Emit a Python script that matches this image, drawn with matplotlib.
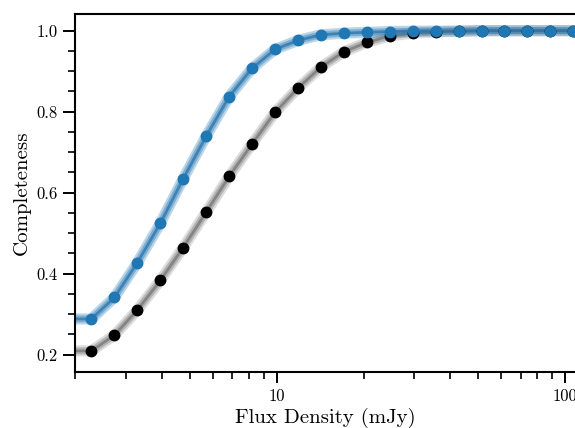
import numpy as np
import matplotlib
matplotlib.use('Agg')
import matplotlib.pyplot as plt
from matplotlib.ticker import MultipleLocator, LogLocator, NullFormatter, FuncFormatter

plt.rcParams['font.family'] = 'serif'
plt.rcParams['font.serif'] = ['cmr10', 'DejaVu Serif']
plt.rcParams['mathtext.fontset'] = 'cm'
plt.rcParams['axes.formatter.use_mathtext'] = True

# flux density bins (mJy)
flux = [2.28, 2.74, 3.29, 3.95, 4.74, 5.70, 6.84, 8.21, 9.86, 11.84, 14.22,
        17.08, 20.51, 24.63, 29.58, 35.52, 42.66, 51.23, 61.52, 73.88, 88.72, 106.5]

blue_comp = [0.288, 0.341, 0.427, 0.524, 0.634, 0.740, 0.837, 0.907, 0.954, 0.976, 0.990,
             0.994, 0.996, 0.998, 0.999, 0.999, 0.999, 1.0, 1.0, 1.0, 1.0, 1.0]
black_comp = [0.209, 0.248, 0.310, 0.383, 0.464, 0.552, 0.640, 0.720, 0.798, 0.858, 0.910,
              0.948, 0.971, 0.987, 0.994, 0.997, 0.999, 1.0, 1.0, 1.0, 1.0, 1.0]

# curves continue flat below the first bin
line_flux = [1.8] + flux
blue_line = [blue_comp[0]] + blue_comp
black_line = [black_comp[0]] + black_comp

fig = plt.figure(figsize=(5.75, 4.28), dpi=100)
ax = fig.add_axes([0.1304, 0.131, 0.8696, 0.836])

# black / grey set
ax.plot(line_flux, black_line, color='0.55', lw=8, alpha=0.3, solid_capstyle='butt', zorder=1)
ax.plot(line_flux, black_line, color='0.45', lw=5, alpha=0.4, solid_capstyle='butt', zorder=1)
ax.plot(line_flux, black_line, color='0.4', lw=2, alpha=0.6, zorder=1)
ax.plot(flux, black_comp, 'o', color='k', ms=7.5, zorder=3)

# blue set
ax.plot(line_flux, blue_line, color='#1f77b4', lw=8, alpha=0.3, solid_capstyle='butt', zorder=2)
ax.plot(line_flux, blue_line, color='#1f77b4', lw=5, alpha=0.4, solid_capstyle='butt', zorder=2)
ax.plot(line_flux, blue_line, color='#2a6fa5', lw=2, alpha=0.7, zorder=2)
ax.plot(flux, blue_comp, 'o', color='#1f77b4', ms=7.5, zorder=4)

ax.set_xscale('log')
ax.set_xlim(2.0, 108)
ax.set_ylim(0.157, 1.041)

ax.yaxis.set_major_locator(MultipleLocator(0.2))
ax.yaxis.set_minor_locator(MultipleLocator(0.05))
ax.yaxis.set_major_formatter(plt.FormatStrFormatter('%.1f'))
ax.xaxis.set_major_locator(LogLocator(base=10))
ax.xaxis.set_major_formatter(FuncFormatter(lambda v, p: '%g' % v))
ax.xaxis.set_minor_locator(LogLocator(base=10, subs=np.arange(2, 10)))
ax.xaxis.set_minor_formatter(NullFormatter())

ax.spines['right'].set_visible(False)
for s in ['left', 'bottom', 'top']:
    ax.spines[s].set_linewidth(1.5)

ax.tick_params(which='major', length=9, width=1.4, labelsize=12, direction='out')
ax.tick_params(axis='x', which='major', length=8, pad=4)
ax.tick_params(which='minor', length=5, width=1.2, direction='out')
ax.tick_params(top=False, right=False, which='both')

ax.set_xlabel('Flux Density (mJy)', fontsize=15, labelpad=3)
ax.set_ylabel('Completeness', fontsize=15)

fig.savefig('out.png', dpi=100)
